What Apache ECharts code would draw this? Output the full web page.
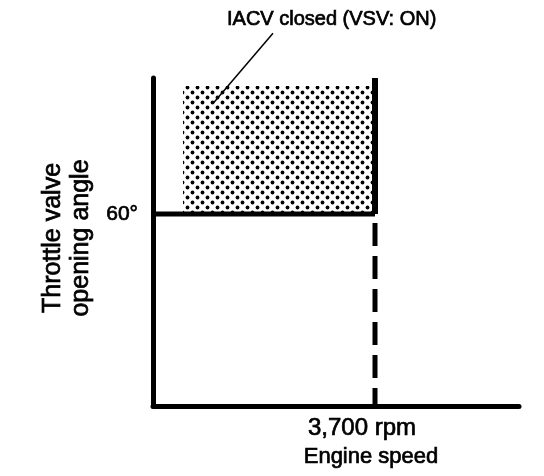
<!DOCTYPE html>
<html>
<head>
<meta charset="utf-8">
<script src="https://cdn.jsdelivr.net/npm/echarts@6/dist/echarts.min.js"></script>
<style>
  html, body { margin: 0; padding: 0; background: #fff; }
  #chart { width: 544px; height: 476px; }
</style>
</head>
<body>
<div id="chart"></div>
<script>
// ---- data ----
const titleText = 'IACV closed (VSV: ON)';
const xAxisName = 'Engine speed';
const yAxisName = 'Throttle valve\nopening angle';
const xMax = 6100;            // rpm at the end of the axis
const yMax = 102.5;           // degrees at the top of the axis
const rpmThreshold = 3700;    // rpm
const angleThreshold = 60;    // degrees
const shadeStartRpm = 500;
const shadeTopAngle = 100;
const xTickValues = [3700];
const xTickLabels = ['3,700 rpm'];
const yTickValues = [60];
const yTickLabels = ['60°'];
const leaderLine = [[2000, 116.5], [1000, 94.5]];

// ---- dot pattern ----
const pc = document.createElement('canvas');
pc.width = 10; pc.height = 10;
const pctx = pc.getContext('2d');
pctx.fillStyle = '#fff';
pctx.fillRect(0, 0, 10, 10);
pctx.fillStyle = '#000';
[[2.5, 2.5], [7.5, 7.5]].forEach(function (p) {
  pctx.beginPath(); pctx.arc(p[0], p[1], 1.9, 0, Math.PI * 2); pctx.fill();
});

const FONT = '"Liberation Sans", Arial, Helvetica, sans-serif';
const heavy = { textBorderColor: '#000', textBorderWidth: 0.7 };
const chart = echarts.init(document.getElementById('chart'), null, { renderer: 'canvas' });

chart.setOption({
  backgroundColor: '#fff',
  animation: false,
  title: {
    text: titleText,
    left: 227, top: 9, padding: 0,
    textStyle: Object.assign({ fontFamily: FONT, fontSize: 20, fontWeight: 'normal', color: '#000' }, heavy)
  },
  grid: { left: 153, right: 25, top: 78, bottom: 70 },
  xAxis: {
    type: 'value', min: 0, max: xMax,
    name: xAxisName, nameLocation: 'middle', nameGap: 30,
    nameTextStyle: Object.assign({ fontFamily: FONT, fontSize: 22, color: '#000', padding: [0, 0, 0, 70] }, heavy),
    axisLine: { lineStyle: { color: '#000', width: 5 } },
    axisTick: { show: false },
    splitLine: { show: false },
    axisLabel: Object.assign({
      customValues: xTickValues,
      formatter: function (v) { return xTickLabels[xTickValues.indexOf(v)] || ''; },
      fontFamily: FONT, fontSize: 24, color: '#000', margin: 10,
      padding: [0, 26, 0, 0]
    }, heavy)
  },
  yAxis: {
    type: 'value', min: 0, max: yMax,
    name: yAxisName, nameLocation: 'middle', nameGap: 58, nameRotate: 90,
    nameTextStyle: Object.assign({ fontFamily: FONT, fontSize: 25, lineHeight: 28, color: '#000', padding: [0, 0, 0, 8] }, heavy),
    axisLine: { lineStyle: { color: '#000', width: 5 } },
    axisTick: { show: false },
    splitLine: { show: false },
    axisLabel: Object.assign({
      customValues: yTickValues,
      formatter: function (v) { return yTickLabels[yTickValues.indexOf(v)] || ''; },
      fontFamily: FONT, fontSize: 21, color: '#000', margin: 15
    }, heavy)
  },
  series: [
    {
      type: 'line', data: [], silent: true,
      markArea: {
        silent: true,
        itemStyle: { color: { image: pc, repeat: 'repeat' }, opacity: 1 },
        data: [[{ coord: [shadeStartRpm, angleThreshold] }, { coord: [rpmThreshold, shadeTopAngle] }]]
      }
    },
    {
      type: 'line', symbol: 'none', silent: true,
      lineStyle: { color: '#000', width: 5 },
      data: [[0, angleThreshold], [rpmThreshold, angleThreshold]]
    },
    {
      type: 'line', symbol: 'none', silent: true,
      lineStyle: { color: '#000', width: 6 },
      data: [[rpmThreshold, angleThreshold], [rpmThreshold, yMax]]
    },
    {
      type: 'line', symbol: 'none', silent: true,
      lineStyle: { color: '#000', width: 5, type: [23, 10], dashOffset: 24 },
      data: [[rpmThreshold, angleThreshold], [rpmThreshold, 0]]
    },
    {
      type: 'line', symbol: 'none', silent: true, clip: false,
      lineStyle: { color: '#000', width: 1.5 },
      data: leaderLine
    }
  ]
});
</script>
</body>
</html>
